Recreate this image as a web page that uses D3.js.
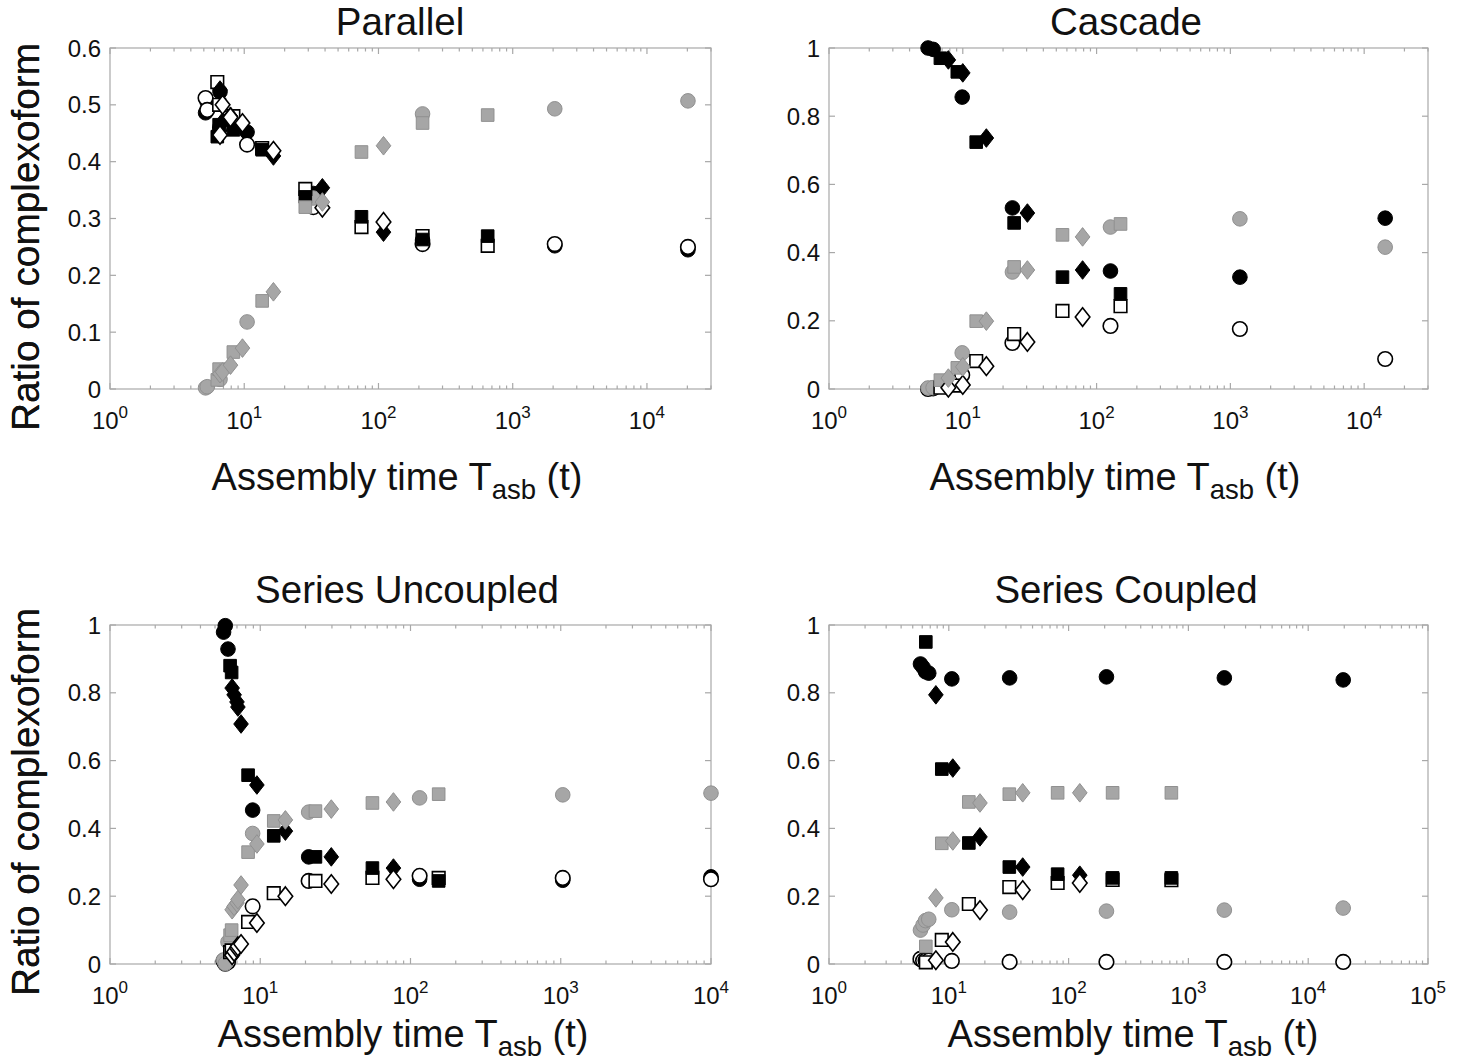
<!DOCTYPE html>
<html><head><meta charset="utf-8">
<script src="https://cdn.jsdelivr.net/npm/d3@7"></script>
<style>
body{margin:0;background:#fff}
text{font-family:"Liberation Sans",Arial,Helvetica,sans-serif;fill:#111}
</style>
</head><body>
<svg id="c" width="1468" height="1061"></svg>
<script>
// ---------- DATA ----------
const panelTitles = ["Parallel", "Cascade", "Series Uncoupled", "Series Coupled"];
const xAxisLabel = ["Assembly time T", "asb", " (t)"];
const yAxisLabel = "Ratio of complexoform";

// Parallel
const parCircX = [5.15, 5.3, 6.6, 10.5, 32.7, 213, 2057, 20200];
const parCircBlack = [0.486, 0.505, 0.523, 0.452, 0.344, 0.262, 0.252, 0.245];
const parCircWhite = [0.512, 0.491, 0.46, 0.430, 0.320, 0.255, 0.255, 0.250];
const parCircGray = [0.002, 0.004, 0.017, 0.118, 0.336, 0.484, 0.493, 0.507];
const parSqX = [6.3, 6.5, 8.3, 13.6, 28.5, 74.7, 213, 651];
const parSqBlack = [0.444, 0.465, 0.456, 0.421, 0.338, 0.303, 0.263, 0.269];
const parSqWhite = [0.540, 0.50, 0.48, 0.424, 0.352, 0.285, 0.269, 0.252];
const parSqGray = [0.016, 0.035, 0.065, 0.155, 0.320, 0.417, 0.468, 0.482];
const parDiaX = [6.6, 6.9, 7.9, 9.7, 16.5, 38.2, 109];
const parDiaBlack = [0.526, 0.47, 0.48, 0.46, 0.41, 0.354, 0.276];
const parDiaWhite = [0.447, 0.50, 0.478, 0.468, 0.419, 0.319, 0.294];
const parDiaGray = [0.027, 0.03, 0.042, 0.072, 0.171, 0.329, 0.428];

// Cascade
const casCircX = [5.5, 6.0, 9.9, 23.5, 127, 1178, 14360];
const casCircBlack = [1.0, 0.996, 0.856, 0.531, 0.346, 0.328, 0.501];
const casCircWhite = [0.0, 0.002, 0.041, 0.135, 0.185, 0.176, 0.088];
const casCircGray = [0.003, 0.004, 0.106, 0.343, 0.475, 0.499, 0.416];
const casSqX = [6.8, 9.1, 12.6, 24.2, 55.6, 151];
const casSqBlack = [0.97, 0.93, 0.724, 0.487, 0.328, 0.279];
const casSqWhite = [0.004, 0.01, 0.082, 0.161, 0.229, 0.243];
const casSqGray = [0.026, 0.062, 0.199, 0.358, 0.452, 0.484];
const casDiaX = [7.8, 10.0, 15.0, 30.4, 78.6];
const casDiaBlack = [0.965, 0.927, 0.736, 0.516, 0.349];
const casDiaWhite = [0.004, 0.012, 0.067, 0.138, 0.211];
const casDiaGray = [0.032, 0.065, 0.199, 0.349, 0.446];

// Series Uncoupled
const uncCircX = [5.7, 5.85, 6.1, 8.9, 21, 115, 1031, 10000];
const uncCircBlack = [0.979, 0.998, 0.929, 0.454, 0.316, 0.25, 0.247, 0.257];
const uncCircWhite = [0.009, 0.001, 0.006, 0.17, 0.245, 0.26, 0.254, 0.25];
const uncCircGray = [0.012, 0.001, 0.065, 0.385, 0.448, 0.49, 0.499, 0.504];
const uncSqX = [6.3, 6.45, 8.3, 12.3, 23.3, 55.8, 154];
const uncSqBlack = [0.88, 0.86, 0.557, 0.378, 0.316, 0.283, 0.245];
const uncSqWhite = [0.035, 0.04, 0.124, 0.209, 0.245, 0.254, 0.254];
const uncSqGray = [0.085, 0.10, 0.33, 0.422, 0.451, 0.475, 0.501];
const uncDiaX = [6.5, 6.7, 7.0, 7.1, 7.45, 9.5, 14.7, 29.7, 77];
const uncDiaBlack = [0.814, 0.794, 0.773, 0.758, 0.708, 0.528, 0.392, 0.316, 0.283];
const uncDiaWhite = [0.026, 0.036, 0.047, 0.052, 0.059, 0.121, 0.2, 0.236, 0.25];
const uncDiaGray = [0.16, 0.17, 0.18, 0.19, 0.233, 0.354, 0.425, 0.457, 0.478];

// Series Coupled
const couCircX = [5.8, 6.1, 6.4, 6.8, 10.6, 32.2, 207, 1995, 19600];
const couCircBlack = [0.885, 0.875, 0.862, 0.858, 0.841, 0.844, 0.847, 0.844, 0.838];
const couCircWhite = [0.015, 0.01, 0.01, 0.01, 0.009, 0.006, 0.006, 0.006, 0.006];
const couCircGray = [0.10, 0.115, 0.128, 0.132, 0.160, 0.153, 0.156, 0.159, 0.165];
const couSqX = [6.43, 8.74, 14.7, 32, 81, 233, 721];
const couSqBlack = [0.950, 0.575, 0.357, 0.286, 0.265, 0.254, 0.254];
const couSqWhite = [0.005, 0.071, 0.177, 0.227, 0.239, 0.248, 0.247];
const couSqGray = [0.052, 0.356, 0.478, 0.501, 0.505, 0.505, 0.505];
const couDiaX = [7.8, 10.8, 18.2, 41.4, 124];
const couDiaBlack = [0.794, 0.578, 0.375, 0.286, 0.262];
const couDiaWhite = [0.011, 0.065, 0.159, 0.218, 0.239];
const couDiaGray = [0.195, 0.363, 0.475, 0.505, 0.505];

// ---------- LAYOUT ----------
const panels = [
  {title: panelTitles[0], left: 110, right: 711, top: 48, bottom: 389, xmax: 3e4, ymax: 0.6, ystep: 0.1, titleX: 400, titleY: 35, xlabX: 397, xlabY: 490, ylabY: 237,
   sets: [[parCircX, parCircBlack, parCircWhite, parCircGray], [parSqX, parSqBlack, parSqWhite, parSqGray], [parDiaX, parDiaBlack, parDiaWhite, parDiaGray]]},
  {title: panelTitles[1], left: 829, right: 1428, top: 48, bottom: 389, xmax: 3e4, ymax: 1, ystep: 0.2, titleX: 1126, titleY: 35, xlabX: 1115, xlabY: 490, ylabY: 237,
   sets: [[casCircX, casCircBlack, casCircWhite, casCircGray], [casSqX, casSqBlack, casSqWhite, casSqGray], [casDiaX, casDiaBlack, casDiaWhite, casDiaGray]]},
  {title: panelTitles[2], left: 110, right: 711, top: 625, bottom: 964, xmax: 1e4, ymax: 1, ystep: 0.2, titleX: 407, titleY: 603, xlabX: 403, xlabY: 1047, ylabY: 802,
   sets: [[uncCircX, uncCircBlack, uncCircWhite, uncCircGray], [uncSqX, uncSqBlack, uncSqWhite, uncSqGray], [uncDiaX, uncDiaBlack, uncDiaWhite, uncDiaGray]]},
  {title: panelTitles[3], left: 829, right: 1428, top: 625, bottom: 964, xmax: 1e5, ymax: 1, ystep: 0.2, titleX: 1126, titleY: 603, xlabX: 1133, xlabY: 1047, ylabY: 802,
   sets: [[couCircX, couCircBlack, couCircWhite, couCircGray], [couSqX, couSqBlack, couSqWhite, couSqGray], [couDiaX, couDiaBlack, couDiaWhite, couDiaGray]]}
];

const shapes = ["circle", "square", "diamond"];
const orderByShape = {circle: [0, 1, 2], square: [1, 0, 2], diamond: [0, 1, 2]};
const styles = [
  {fill: "#000", stroke: "#000", sw: 1},
  {fill: "#fff", stroke: "#000", sw: 1.6},
  {fill: "#a6a6a6", stroke: "#909090", sw: 1}
];
const AXIS = "#a8a8a8";

const svg = d3.select("#c");
svg.append("rect").attr("width", 1468).attr("height", 1061).attr("fill", "#fff");

function markerPath(shape) {
  if (shape === "circle") return d3.symbol(d3.symbolCircle, Math.PI * 7.3 * 7.3)();
  if (shape === "square") return "M-6.3,-6.3H6.3V6.3H-6.3Z";
  return "M0,-9.3L7.3,0L0,9.3L-7.3,0Z";
}

panels.forEach(p => {
  const g = svg.append("g");
  const x = d3.scaleLog().domain([1, p.xmax]).range([p.left, p.right]);
  const y = d3.scaleLinear().domain([0, p.ymax]).range([p.bottom, p.top]);

  g.append("rect").attr("x", p.left).attr("y", p.top)
    .attr("width", p.right - p.left).attr("height", p.bottom - p.top)
    .attr("fill", "none").attr("stroke", AXIS).attr("stroke-width", 1.2);

  const maxExp = Math.floor(Math.log10(p.xmax) + 1e-9);
  const majors = d3.range(0, maxExp + 1).map(e => Math.pow(10, e));
  const minors = [];
  majors.forEach(m => { for (let k = 2; k <= 9; k++) { const v = m * k; if (v <= p.xmax * 1.0001) minors.push(v); } });
  const tick = (v, len) => {
    g.append("line").attr("x1", x(v)).attr("x2", x(v)).attr("y1", p.bottom).attr("y2", p.bottom - len).attr("stroke", AXIS).attr("stroke-width", 1.2);
    g.append("line").attr("x1", x(v)).attr("x2", x(v)).attr("y1", p.top).attr("y2", p.top + len).attr("stroke", AXIS).attr("stroke-width", 1.2);
  };
  majors.forEach(v => tick(v, 6));
  minors.forEach(v => tick(v, 3.5));

  majors.forEach((v, i) => {
    const t = g.append("text").attr("x", x(v)).attr("y", p.bottom + 40)
      .attr("text-anchor", "middle").attr("font-size", 24);
    t.append("tspan").text("10");
    t.append("tspan").attr("dy", -11).attr("font-size", 17).text(String(i));
  });

  const yt = d3.range(0, p.ymax + 1e-9, p.ystep);
  yt.forEach(v => {
    g.append("line").attr("x1", p.left).attr("x2", p.left + 6).attr("y1", y(v)).attr("y2", y(v)).attr("stroke", AXIS).attr("stroke-width", 1.2);
    g.append("line").attr("x1", p.right).attr("x2", p.right - 6).attr("y1", y(v)).attr("y2", y(v)).attr("stroke", AXIS).attr("stroke-width", 1.2);
    const lab = Math.abs(v) < 1e-9 ? "0" : (Math.abs(v - Math.round(v)) < 1e-9 ? String(Math.round(v)) : d3.format(".1f")(v));
    g.append("text").attr("x", p.left - 9).attr("y", y(v)).attr("dy", "0.36em")
      .attr("text-anchor", "end").attr("font-size", 24).text(lab);
  });

  g.append("text").attr("x", p.titleX).attr("y", p.titleY)
    .attr("text-anchor", "middle").attr("font-size", 38.5).text(p.title);

  const xl = g.append("text").attr("x", p.xlabX).attr("y", p.xlabY)
    .attr("text-anchor", "middle").attr("font-size", 38);
  xl.append("tspan").text(xAxisLabel[0]);
  xl.append("tspan").attr("font-size", 27.5).attr("dy", 9).text(xAxisLabel[1]);
  xl.append("tspan").attr("dy", -9).text(xAxisLabel[2]);

  g.append("text").attr("transform", `translate(39,${p.ylabY}) rotate(-90)`)
    .attr("text-anchor", "middle").attr("font-size", 38.8).text(yAxisLabel);

  p.sets.forEach((set, si) => {
    const shape = shapes[si];
    const xs = set[0];
    orderByShape[shape].forEach(ci => {
      const ys = set[ci + 1];
      const st = styles[ci];
      const pts = xs.map((xv, i) => ({x: xv, y: ys[i]}));
      g.append("g").selectAll("path").data(pts).join("path")
        .attr("d", markerPath(shape))
        .attr("transform", d => `translate(${x(d.x)},${y(d.y)})`)
        .attr("fill", st.fill).attr("stroke", st.stroke).attr("stroke-width", st.sw);
    });
  });
});
</script>
</body></html>
